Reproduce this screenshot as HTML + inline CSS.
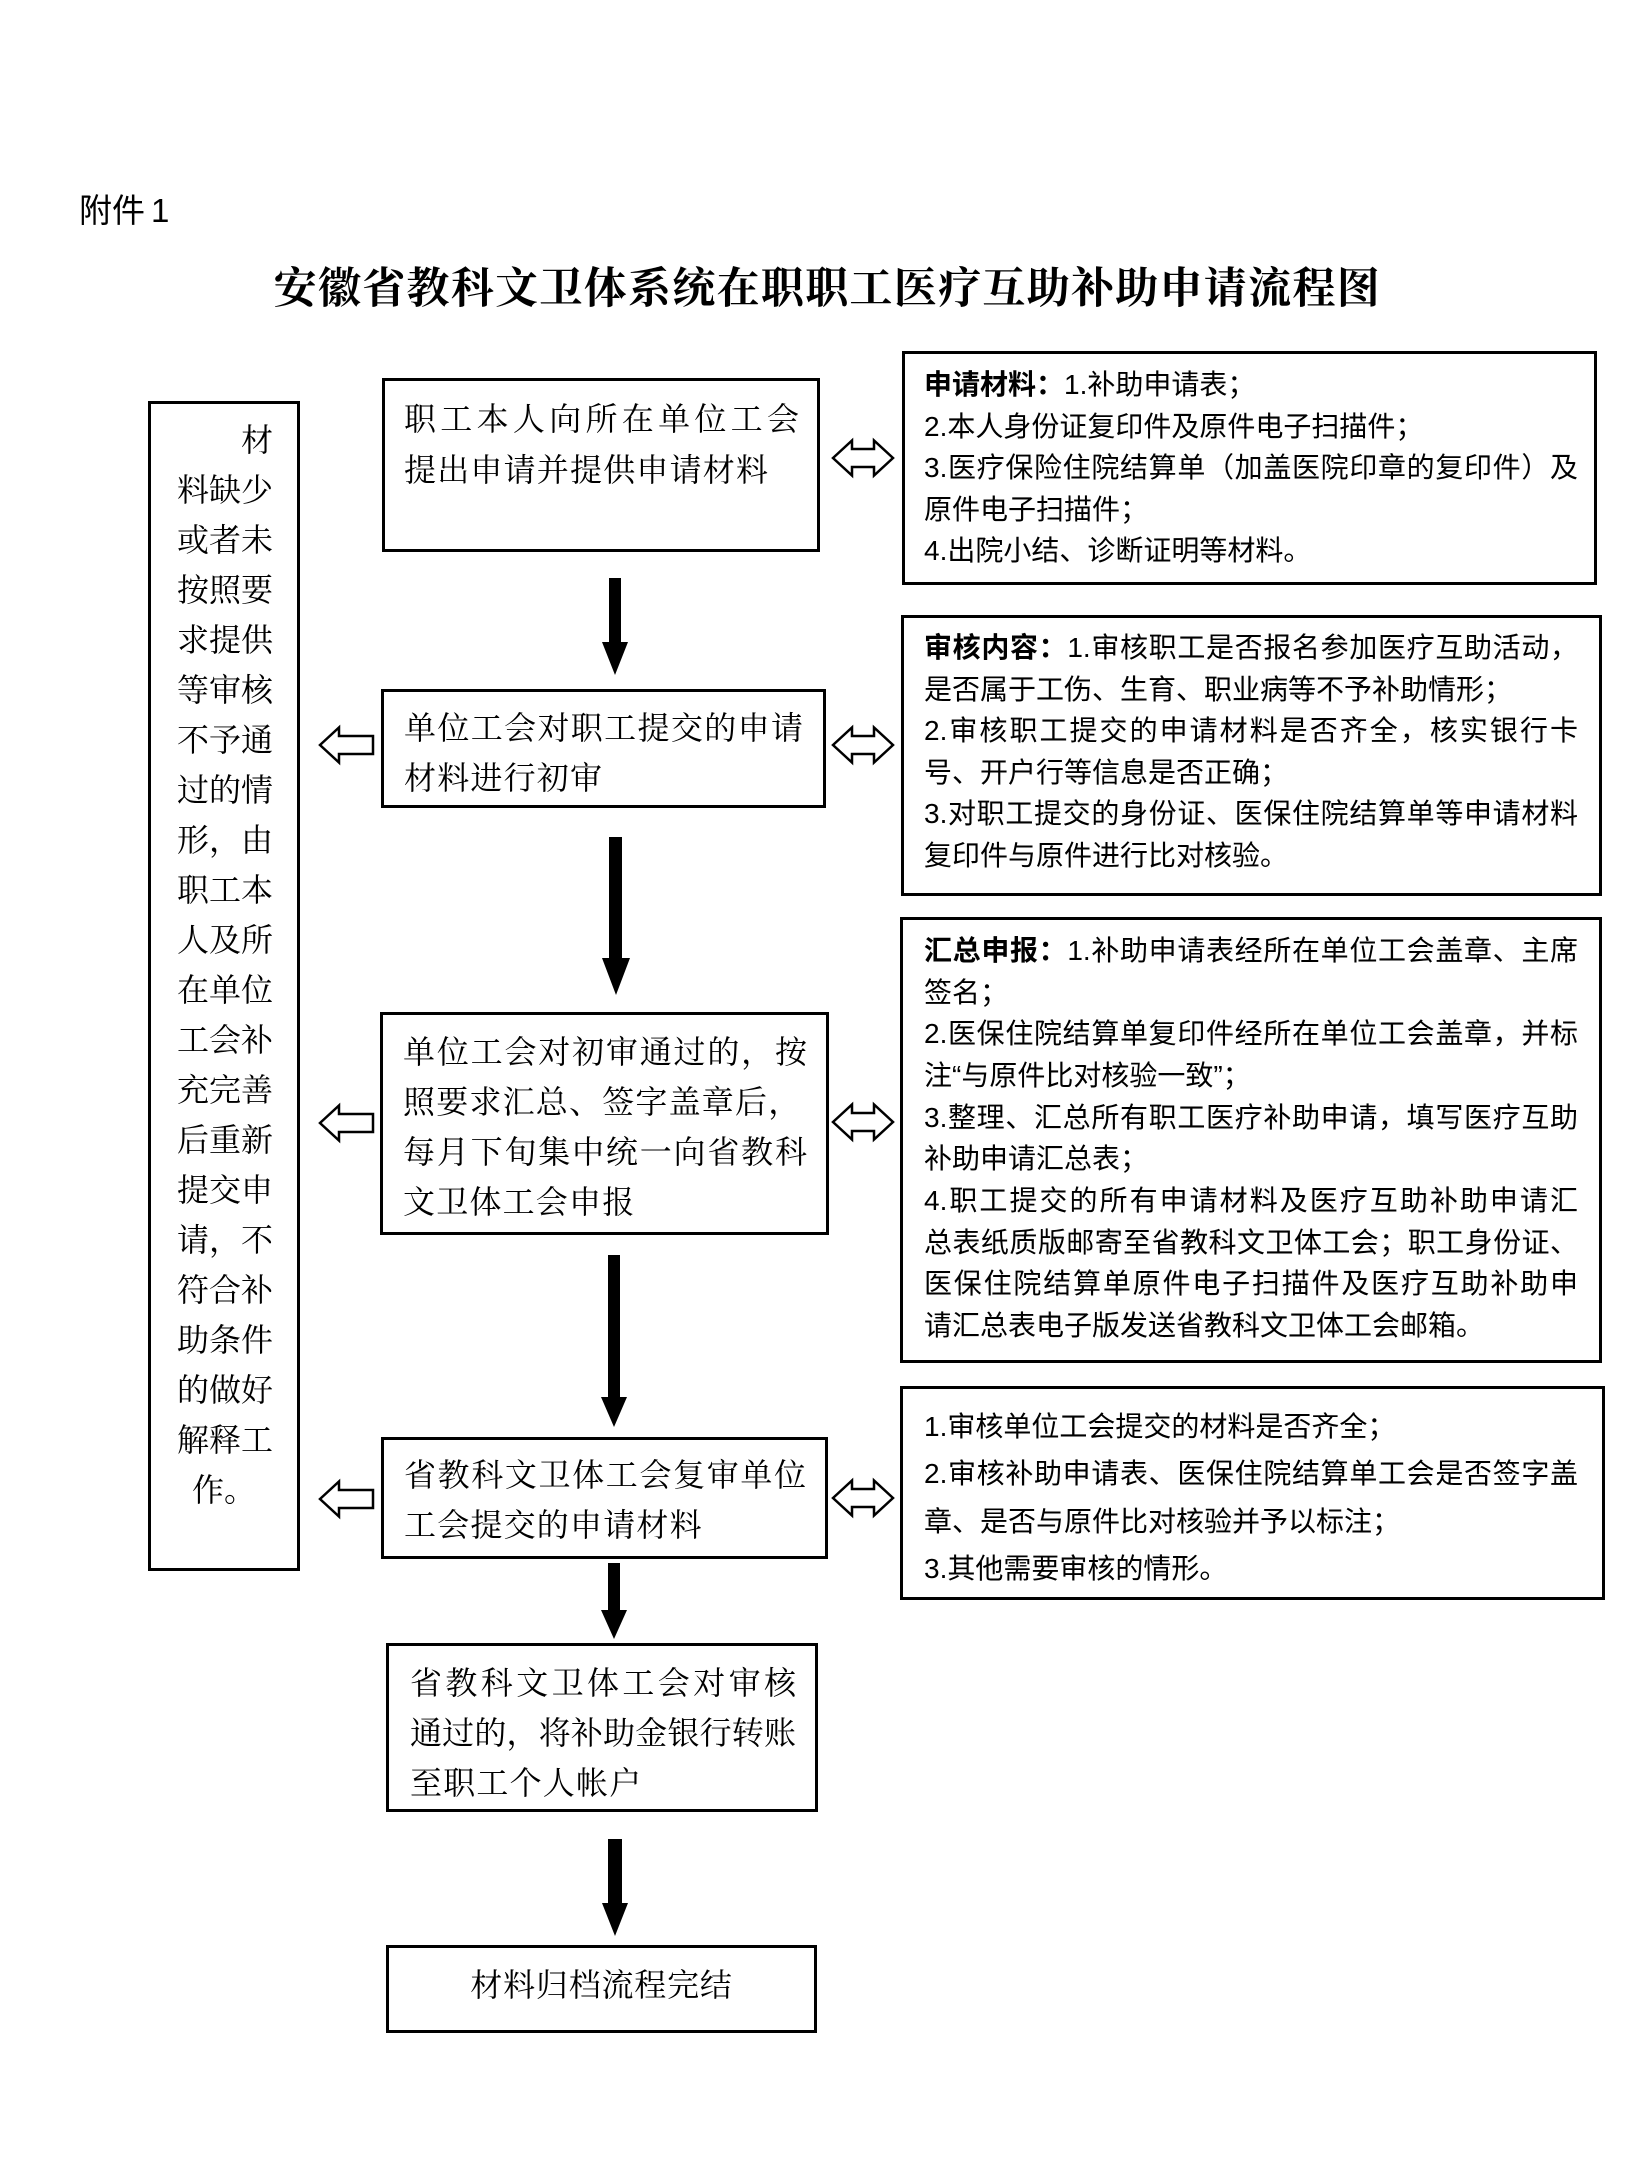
<!DOCTYPE html>
<html lang="zh-CN">
<head>
<meta charset="utf-8">
<style>
  html, body { margin:0; padding:0; background:#fff; }
  body { width:1652px; height:2172px; position:relative; overflow:hidden; color:#000; }
  .abs { position:absolute; }
  .box { position:absolute; border:3px solid #000; box-sizing:border-box; background:transparent; }
  .rb { border-width:3.5px; }
  .sans { font-family:"Liberation Sans","Noto Sans CJK SC",sans-serif; }
  .mid { position:absolute; font-family:"Liberation Serif","Noto Serif CJK SC",serif; font-size:32px; line-height:50px; white-space:nowrap; letter-spacing:1.2px; }
  .mid div { height:50px; }
  .j { text-align:justify; text-align-last:justify; letter-spacing:0 !important; white-space:normal; }
  .rt { position:absolute; left:924px; font-family:"Liberation Sans","Noto Sans CJK SC",sans-serif; font-size:28px; white-space:nowrap; }
  .rt div { width:654px; overflow:visible; }
  .rt b { font-weight:700; }
  .lc { position:absolute; left:177px; width:96px; font-family:"Liberation Serif","Noto Serif CJK SC",serif; font-size:32px; line-height:50px; white-space:nowrap; }
  .lc div { height:50px; }
  .title { position:absolute; left:273px; top:256px; height:60px; white-space:nowrap; font-family:"Noto Serif CJK SC","Liberation Serif",serif; font-weight:700; font-size:43px; line-height:60px; }
  .title span { display:inline-block; width:44.3px; text-align:center; overflow:visible; }
</style>
</head>
<body>

<!-- header -->
<div class="abs sans" style="left:79px;top:190px;font-size:33px;line-height:42px;white-space:nowrap;">附件<span style="margin-left:6px;">1</span></div>
<div class="title"><span>安</span><span>徽</span><span>省</span><span>教</span><span>科</span><span>文</span><span>卫</span><span>体</span><span>系</span><span>统</span><span>在</span><span>职</span><span>职</span><span>工</span><span>医</span><span>疗</span><span>互</span><span>助</span><span>补</span><span>助</span><span>申</span><span>请</span><span>流</span><span>程</span><span>图</span></div>

<!-- left column -->
<div class="box" style="left:148px;top:401px;width:152px;height:1170px;"></div>
<div class="lc" style="top:415px;">
  <div style="text-align:right;">材</div>
  <div>料缺少</div>
  <div>或者未</div>
  <div>按照要</div>
  <div>求提供</div>
  <div>等审核</div>
  <div>不予通</div>
  <div>过的情</div>
  <div>形，由</div>
  <div>职工本</div>
  <div>人及所</div>
  <div>在单位</div>
  <div>工会补</div>
  <div>充完善</div>
  <div>后重新</div>
  <div>提交申</div>
  <div>请，不</div>
  <div>符合补</div>
  <div>助条件</div>
  <div>的做好</div>
  <div>解释工</div>
  <div style="padding-left:15px;">作。</div>
</div>

<!-- middle boxes -->
<div class="box" style="left:382px;top:378px;width:438px;height:174px;"></div>
<div class="mid" style="left:404px;top:394px;line-height:51px;">
  <div class="j" style="width:395px;height:51px;">职工本人向所在单位工会</div>
  <div style="height:51px;">提出申请并提供申请材料</div>
</div>

<div class="box" style="left:381px;top:689px;width:445px;height:119px;"></div>
<div class="mid" style="left:404px;top:703px;">
  <div class="j" style="width:399px;">单位工会对职工提交的申请</div>
  <div>材料进行初审</div>
</div>

<div class="box" style="left:380px;top:1012px;width:449px;height:223px;"></div>
<div class="mid" style="left:403px;top:1027px;">
  <div class="j" style="width:404px;">单位工会对初审通过的，按</div>
  <div>照要求汇总、签字盖章后，</div>
  <div class="j" style="width:404px;">每月下旬集中统一向省教科</div>
  <div>文卫体工会申报</div>
</div>

<div class="box" style="left:381px;top:1437px;width:447px;height:122px;"></div>
<div class="mid" style="left:404px;top:1450px;">
  <div class="j" style="width:402px;">省教科文卫体工会复审单位</div>
  <div>工会提交的申请材料</div>
</div>

<div class="box" style="left:386px;top:1643px;width:432px;height:169px;"></div>
<div class="mid" style="left:410px;top:1658px;">
  <div class="j" style="width:386px;">省教科文卫体工会对审核</div>
  <div class="j" style="width:386px;">通过的，将补助金银行转账</div>
  <div>至职工个人帐户</div>
</div>

<div class="box" style="left:386px;top:1945px;width:431px;height:88px;"></div>
<div class="mid" style="left:386px;top:1960px;width:431px;text-align:center;letter-spacing:0.8px;">
  <div>材料归档流程完结</div>
</div>

<!-- right boxes -->
<div class="box rb" style="left:902px;top:351px;width:695px;height:234px;"></div>
<div class="rt" style="top:364px;line-height:41.5px;">
  <div><b>申请材料：</b>1.补助申请表；</div>
  <div>2.本人身份证复印件及原件电子扫描件；</div>
  <div class="j">3.医疗保险住院结算单（加盖医院印章的复印件）及</div>
  <div>原件电子扫描件；</div>
  <div>4.出院小结、诊断证明等材料。</div>
</div>

<div class="box rb" style="left:901px;top:615px;width:701px;height:281px;"></div>
<div class="rt" style="top:627px;line-height:41.6px;">
  <div class="j"><b>审核内容：</b>1.审核职工是否报名参加医疗互助活动，</div>
  <div>是否属于工伤、生育、职业病等不予补助情形；</div>
  <div class="j">2.审核职工提交的申请材料是否齐全，核实银行卡</div>
  <div>号、开户行等信息是否正确；</div>
  <div class="j">3.对职工提交的身份证、医保住院结算单等申请材料</div>
  <div>复印件与原件进行比对核验。</div>
</div>

<div class="box rb" style="left:900px;top:917px;width:702px;height:446px;"></div>
<div class="rt" style="top:930px;line-height:41.65px;">
  <div class="j"><b>汇总申报：</b>1.补助申请表经所在单位工会盖章、主席</div>
  <div>签名；</div>
  <div class="j">2.医保住院结算单复印件经所在单位工会盖章，并标</div>
  <div>注“与原件比对核验一致”；</div>
  <div class="j">3.整理、汇总所有职工医疗补助申请，填写医疗互助</div>
  <div>补助申请汇总表；</div>
  <div class="j">4.职工提交的所有申请材料及医疗互助补助申请汇</div>
  <div class="j" style="white-space:nowrap;">总表纸质版邮寄至省教科文卫体工会；职工身份证、</div>
  <div class="j">医保住院结算单原件电子扫描件及医疗互助补助申</div>
  <div>请汇总表电子版发送省教科文卫体工会邮箱。</div>
</div>

<div class="box rb" style="left:900px;top:1386px;width:705px;height:214px;"></div>
<div class="rt" style="top:1403px;line-height:47.4px;">
  <div>1.审核单位工会提交的材料是否齐全；</div>
  <div class="j">2.审核补助申请表、医保住院结算单工会是否签字盖</div>
  <div>章、是否与原件比对核验并予以标注；</div>
  <div>3.其他需要审核的情形。</div>
</div>

<!-- arrows -->
<svg class="abs" style="left:0;top:0;" width="1652" height="2172" viewBox="0 0 1652 2172">
  <g fill="#000">
    <polygon points="609,578 621,578 621,642 628,642 615,675 602,642 609,642"/>
    <polygon points="609,837 622,837 622,958 630,958 616,995 602,958 609,958"/>
    <polygon points="608,1255 620,1255 620,1397 627,1397 614,1427 601,1397 608,1397"/>
    <polygon points="608,1563 620,1563 620,1610 627,1610 614,1639 601,1610 608,1610"/>
    <polygon points="608,1839 622,1839 622,1903 628,1903 615,1936 602,1903 608,1903"/>
  </g>
  <g fill="#fff" stroke="#000" stroke-width="2.5" stroke-linejoin="miter">
    <polygon points="320,745 339,727.5 339,736 373,736 373,754 339,754 339,762.5"/>
    <polygon points="320,1123 339,1105.5 339,1114 373,1114 373,1132 339,1132 339,1140.5"/>
    <polygon points="320,1499 339,1481.5 339,1490 373,1490 373,1508 339,1508 339,1516.5"/>
    <polygon points="833,458 852,440.5 852,449 874,449 874,440.5 893,458 874,475.5 874,467 852,467 852,475.5"/>
    <polygon points="833,745 852,727.5 852,736 874,736 874,727.5 893,745 874,762.5 874,754 852,754 852,762.5"/>
    <polygon points="833,1122 852,1104.5 852,1113 874,1113 874,1104.5 893,1122 874,1139.5 874,1131 852,1131 852,1139.5"/>
    <polygon points="833,1498 852,1480.5 852,1489 874,1489 874,1480.5 893,1498 874,1515.5 874,1507 852,1507 852,1515.5"/>
  </g>
</svg>

</body>
</html>
